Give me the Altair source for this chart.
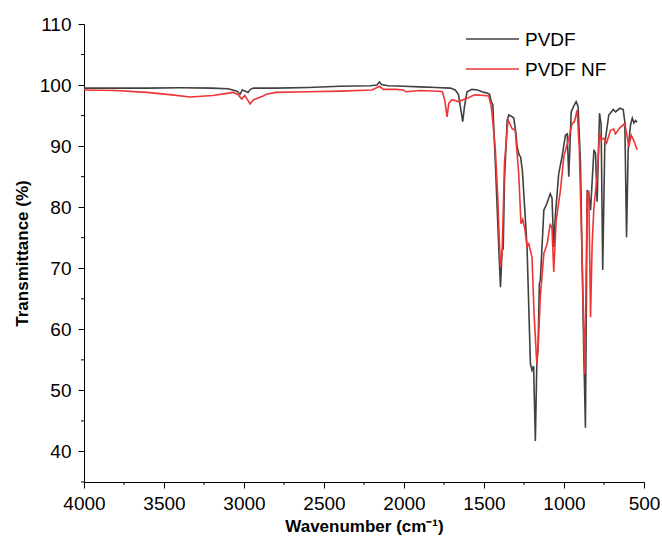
import altair as alt
import pandas as pd

# PVDF (black) spectrum, wavenumber (cm-1) and transmittance (%)
pvdf_wn = [4000, 3800, 3600, 3400, 3200, 3100, 3043, 3024, 3010, 2990, 2975, 2960, 2940,
           2800, 2600, 2400, 2211, 2170, 2153, 2140, 2100, 2000, 1900, 1800, 1710, 1680,
           1660, 1645, 1633, 1622, 1606, 1575, 1540, 1500, 1481, 1465, 1455, 1445, 1429,
           1408, 1397, 1387, 1380, 1372, 1355, 1345, 1330, 1314, 1300, 1293, 1280, 1272,
           1260, 1231, 1210, 1200, 1190, 1179, 1170, 1162, 1154, 1148, 1126, 1107, 1086,
           1075, 1064, 1053, 1033, 1012, 991, 980, 970, 955, 940, 924, 912, 897, 877, 866,
           855, 845, 834, 813, 803, 793, 778, 768, 758, 745, 720, 692, 678, 651, 630, 620,
           609, 599, 584, 573, 563, 553, 543]
pvdf_t = [99.5, 99.5, 99.5, 99.55, 99.5, 99.4, 99.0, 98.5, 99.2, 99.0, 98.8, 99.3, 99.5,
          99.5, 99.6, 99.8, 99.9, 100.0, 100.5, 100.1, 99.9, 99.8, 99.7, 99.6, 99.5, 99.2,
          98.5, 96.0, 94.0, 96.5, 98.9, 99.3, 99.2, 98.8, 98.7, 98.5, 97.3, 96.8, 87.2,
          73.5, 66.9, 72.9, 73.2, 84.4, 94.3, 95.1, 94.9, 94.6, 92.0, 89.9, 88.5, 88.3,
          86.0, 73.5, 54.4, 53.3, 54.0, 41.7, 54.3, 57.0, 67.5, 68.0, 79.5, 80.6, 82.2,
          81.5, 73.5, 79.0, 85.5, 88.3, 91.8, 92.0, 85.0, 95.6, 96.5, 97.3, 96.5, 87.2,
          57.0, 43.9, 82.8, 82.2, 79.5, 89.4, 88.8, 80.9, 95.4, 93.5, 69.7, 90.4, 95.1,
          96.0, 95.6, 96.2, 96.0, 94.0, 75.1, 89.4, 93.5, 94.6, 93.8, 94.2, 93.9]

# PVDF NF (red) spectrum
nf_wn = [4000, 3800, 3608, 3450, 3337, 3193, 3068, 3040, 3014, 2995, 2962, 2940, 2920,
         2880, 2860, 2800, 2600, 2400, 2200, 2153, 2130, 2050, 2004, 1990, 1900, 1780,
         1760, 1745, 1731, 1720, 1700, 1660, 1620, 1600, 1560, 1500, 1470, 1455, 1450,
         1429, 1414, 1405, 1397, 1387, 1372, 1350, 1325, 1305, 1283, 1269, 1258, 1245,
         1231, 1220, 1200, 1187, 1170, 1160, 1148, 1126, 1105, 1086, 1075, 1064, 1049,
         1022, 1001, 970, 949, 935, 918, 905, 890, 870, 855, 845, 834, 824, 813, 793,
         778, 768, 752, 734, 709, 690, 678, 651, 620, 605, 595, 580, 565, 543]
nf_t = [99.2, 99.1, 98.8, 98.4, 98.05, 98.3, 98.8, 98.5, 97.7, 98.3, 96.9, 97.6, 97.8,
        98.2, 98.5, 98.8, 98.9, 99.0, 99.2, 99.8, 99.3, 99.3, 99.2, 98.9, 99.1, 99.0,
        98.9, 97.5, 94.8, 97.0, 97.6, 97.3, 97.7, 97.9, 98.4, 98.3, 98.2, 96.5, 95.4,
        89.4, 81.7, 75.0, 70.2, 72.4, 87.2, 94.3, 92.9, 92.6, 85.5, 77.3, 78.0, 76.5,
        73.5, 74.0, 71.8, 62.6, 54.3, 58.0, 65.3, 72.4, 74.0, 77.3, 76.5, 69.4, 77.9,
        82.8, 88.3, 91.3, 93.7, 94.0, 95.9, 89.9, 75.0, 52.7, 82.2, 82.5, 62.0, 74.0,
        80.0, 85.0, 92.1, 91.0, 91.3, 90.5, 92.6, 92.8, 92.0, 93.0, 93.7, 91.5, 89.9,
        91.8, 91.0, 89.4]

series_names = ["PVDF", "PVDF NF"]
series_colors = ["#404040", "#ee3535"]

x_major = [4000, 3500, 3000, 2500, 2000, 1500, 1000, 500]
x_minor = [3750, 3250, 2750, 2250, 1750, 1250, 750]
y_major = [40, 50, 60, 70, 80, 90, 100, 110]
y_minor = [35, 45, 55, 65, 75, 85, 95, 105]

H = 458

df = pd.concat([
    pd.DataFrame({"wn": pvdf_wn, "T": pvdf_t, "series": series_names[0], "order": range(len(pvdf_wn))}),
    pd.DataFrame({"wn": nf_wn, "T": nf_t, "series": series_names[1], "order": range(len(nf_wn))}),
])
df_xminor = pd.DataFrame({"wn": x_minor})
df_yminor = pd.DataFrame({"T": y_minor})
df_legend = pd.DataFrame({"series": series_names})

FONT = "Liberation Sans"
xscale = alt.Scale(domain=[4000, 500], nice=False, zero=False)
yscale = alt.Scale(domain=[35, 110], nice=False, zero=False)
cscale = alt.Scale(domain=series_names, range=series_colors)

major_x = alt.Axis(values=x_major, format="d", tickSize=6, labelFontSize=19, labelFont=FONT,
                   labelColor="black", labelPadding=6, domainColor="black", tickColor="black",
                   grid=False, title="Wavenumber (cm⁻¹)", titleFont=FONT, titleFontSize=17,
                   titleFontWeight="bold", titleColor="black", titlePadding=5, labelFlush=False)
major_y = alt.Axis(values=y_major, format="d", tickSize=6, labelFontSize=19, labelFont=FONT,
                   labelColor="black", labelPadding=7, domainColor="black", tickColor="black",
                   grid=False, title="Transmittance (%)", titleFont=FONT, titleFontSize=17,
                   titleFontWeight="bold", titleColor="black", titlePadding=8, labelFlush=False)

X = alt.X("wn:Q", scale=xscale, axis=major_x, title="Wavenumber (cm⁻¹)")
Y = alt.Y("T:Q", scale=yscale, axis=major_y, title="Transmittance (%)")

lines = alt.Chart(df).mark_line(strokeWidth=1.6, clip=True).encode(
    x=X,
    y=Y,
    order="order:Q",
    color=alt.Color("series:N", scale=cscale, legend=None),
)

xminor = alt.Chart(df_xminor).mark_rule(color="black", strokeWidth=1, clip=False).encode(
    x=X,
    y=alt.value(H),
    y2=alt.value(H + 3),
)
yminor = alt.Chart(df_yminor).mark_rule(color="black", strokeWidth=1, clip=False).encode(
    y=Y,
    x=alt.value(0),
    x2=alt.value(-3),
)

plot = alt.layer(lines, xminor, yminor)

# legend drawn from the series names
LY = alt.Y("series:N", scale=alt.Scale(type="point", domain=series_names, range=[15, 45], padding=0),
           axis=None)
leg_rule = alt.Chart(df_legend).mark_rule(strokeWidth=1.6).encode(
    y=LY,
    x=alt.value(382),
    x2=alt.value(435),
    color=alt.Color("series:N", scale=cscale, legend=None),
)
leg_text = alt.Chart(df_legend).mark_text(align="left", baseline="middle", font=FONT,
                                          fontSize=19, color="black", dy=1).encode(
    y=LY,
    x=alt.value(441),
    text="series:N",
)
legend = alt.layer(leg_rule, leg_text)

chart = alt.layer(plot, legend).resolve_scale(y="independent").properties(
    width=560, height=H,
    autosize=alt.AutoSizeParams(type="none"),
    padding={"left": 84, "top": 24, "right": 18, "bottom": 62},
    background="white",
).configure_view(stroke=None)

chart.save("out.html", embed_options={"renderer": "svg", "actions": False})
